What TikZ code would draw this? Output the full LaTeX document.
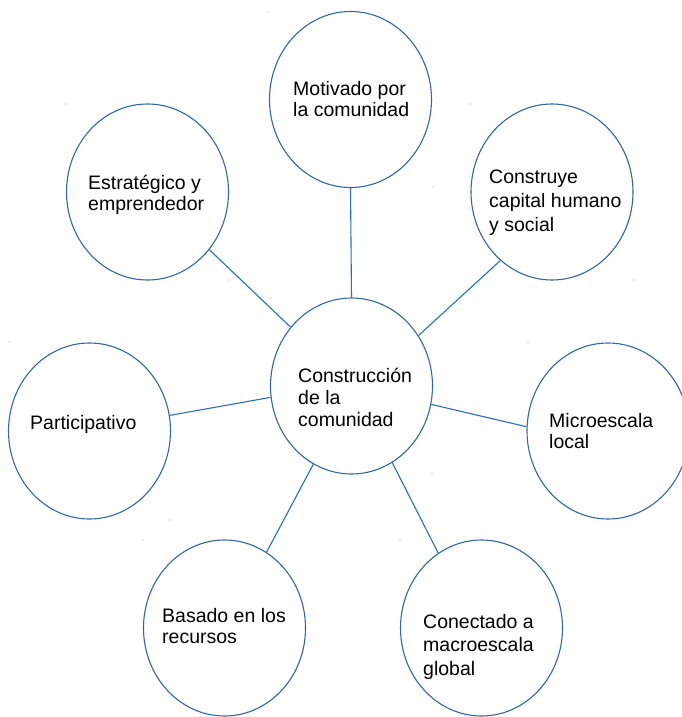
\documentclass[tikz,border=0pt]{standalone}
\usepackage{fontspec}
\setmainfont{Liberation Sans}
\usetikzlibrary{shapes.geometric}
\definecolor{ringblue}{RGB}{52,101,164}
\definecolor{lineblue}{RGB}{40,110,190}
\tikzset{
  bubble/.style={ellipse, draw=ringblue, line width=1.1pt, inner sep=0pt,
    minimum width=162pt, minimum height=176pt},
  link/.style={draw=lineblue, line width=1.1pt},
  lbl/.style={anchor=base west, align=left, inner sep=0pt,
    font=\fontsize{19.5}{#1}\selectfont},
  lbl/.default=22,
  speck/.style={fill=gray!70, draw=none}
}
\begin{document}
\begin{tikzpicture}[x=1pt,y=-1pt]
\useasboundingbox (0,0) rectangle (681,717);
% bubbles
\node[bubble] (c)  at (351.5,386) {};
\node[bubble] (m)  at (350.5,99.5) {};
\node[bubble] (e)  at (147.5,192) {};
\node[bubble] (k)  at (552,192) {};
\node[bubble] (p)  at (89.5,431) {};
\node[bubble] (mi) at (608,431) {};
\node[bubble] (b)  at (224.5,628) {};
\node[bubble] (co) at (481.5,628) {};
% connectors
\draw[link] (c.north) -- (m.south);
\draw[link] (c.136) -- (e.-43);
\draw[link] (c.37) -- (k.-127);
\draw[link] (c.188) -- (p.11);
\draw[link] (c.-13) -- (mi.177);
\draw[link] (c.-116) -- (b.61);
\draw[link] (c.-62) -- (co.120);
% labels (anchored at the baseline of the last line)
\node[lbl=21] (tm) at (293,116) {Motivado por\\la comunidad};
\node[lbl=21] (te) at (88,210) {Estratégico y\\emprendedor};
\node[lbl=24] (tk) at (489,231) {Construye\\capital humano\\y social};
\node[lbl=22] (tc) at (298,426) {Construcción\\de la\\comunidad};
\node[lbl] (tp) at (30,429) {Participativo};
\node[lbl=21] (tmi) at (549,448) {Microescala\\local};
\node[lbl=21] (tb) at (162,643) {Basado en los\\recursos};
\node[lbl=23.5] (tco) at (423,675) {Conectado a\\macroescala\\global};
% stray corner specks
\foreach \p in {(268,12),(433,187),(66,104),(229,280),(470,104),(634,280),
  (271,298),(432,474),(9,342),(170,520),(528,342),(143,540),(400,540)}
  \fill[speck] \p circle (0.7);
\end{tikzpicture}
\end{document}
